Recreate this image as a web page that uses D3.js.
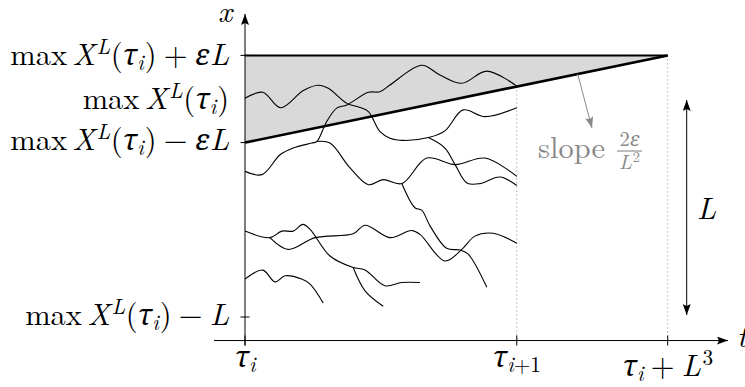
<!DOCTYPE html>
<html><head><meta charset="utf-8">
<script src="https://cdn.jsdelivr.net/npm/d3@7"></script>
<style>body{margin:0;background:#fff} svg{display:block}</style>
</head><body><svg id="c" width="745" height="387"></svg>
<script>
// time t in % of L^3 after tau_i ; level x in % of L relative to max X^L(tau_i)
const EPS = 20;
const tauNext = 64.3;
const axisLevel = -110.8;
const pathA  = [[0,0.3],[4.2,3.1],[8.4,-4.0],[13.8,3.9],[17.3,6.3],[19.7,4.9],[24.1,-2.0],[27.2,-3.9],[29.2,-5.8],[31.9,-14.9],[34.3,-18.0],[37.5,-19.0],[43.4,-17.7],[47.3,-14.6],[51.6,-5.0],[56.8,-8.1],[64.3,-4.0]];
const pathA2 = [[43.4,-17.7],[47.3,-22.5],[49.7,-30.1],[52.5,-38.5],[55.6,-38.8],[60.3,-35.8],[64.3,-39.7]];
const pathB  = [[0,-33.2],[4.0,-34.7],[8.3,-25.6],[11.4,-22.5],[15.8,-20.2],[17.0,-19.5],[19.3,-10.4],[21.7,-4.2],[24.1,-2.7],[29.2,3.1],[31.9,3.3],[34.3,6.4],[41.8,15.5],[46.1,11.0],[51.3,7.2],[57.2,12.8],[64.3,5.9]];
const pathC  = [[17.0,-19.5],[20.1,-20.2],[24.8,-31.5],[29.2,-39.3],[32.7,-37.0],[37.1,-38.8],[43.0,-27.1],[49.7,-30.1],[56.8,-27.1],[64.3,-35.5]];
const pathC2 = [[37.1,-38.8],[40.2,-49.9],[41.8,-51.0],[43.8,-58.3],[47.7,-68.5],[50.9,-69.3],[52.8,-71.2],[57.2,-86.4]];
const pathD  = [[0,-60.6],[5.9,-63.6],[8.7,-60.6],[11.4,-60.6],[13.7,-57.5],[15.4,-59.8],[20.1,-72.0],[25.6,-77.3],[28.4,-78.4],[33.1,-85.7],[37.1,-84.2],[41.4,-84.2]];
const pathD2 = [[5.9,-63.6],[10.2,-69.0],[16.6,-63.6],[25.6,-61.8],[28.4,-57.9],[34.3,-63.6],[39.4,-60.3],[41.4,-62.1],[47.3,-74.3],[51.3,-69.0],[54.4,-62.9],[58.7,-61.6],[64.3,-66.2]];
const pathD3 = [[25.6,-77.3],[28.4,-88.0],[32.7,-95.1]];
const pathE  = [[0,-82.6],[4.2,-78.5],[7.1,-83.9],[9.5,-81.1],[13.4,-82.6],[15.4,-84.9],[18.5,-93.6]];
const paths = [pathA, pathA2, pathB, pathC, pathC2, pathD, pathD2, pathD3, pathE];

// label pieces: [text, kind, leading space in em]
const head = [["max","r"],["X","i",0.18],["L","sup",0.05],["(","r",0.02],["τ","g"],["i","sub"],[")","r",0.03]];
const yTickValues = [EPS, 0, -EPS, -100];
const yTickMarked = [true, false, true, true];
const yTickLabels = [
  head.concat([["+","r",0.24],["ε","g",0.24],["L","i",0.02]]),
  head,
  head.concat([["−","r",0.24],["ε","g",0.24],["L","i",0.02]]),
  head.concat([["−","r",0.24],["L","i",0.24]])
];
const xTickValues = [0, tauNext, 100];
const xTickLabels = [
  [["τ","g"],["i","sub"]],
  [["τ","g"],["i","sub"],["+1","subr"]],
  [["τ","g"],["i","sub"],["+","r",0.24],["L","i",0.24],["3","supr",0.05]]
];

const svg = d3.select("#c");
const FONT = "'Latin Modern Roman', 'Liberation Serif', serif";
const GREEK = "'Noto Serif', 'DejaVu Serif', serif";
const FS = 30.5;
const x = d3.scaleLinear().domain([0,100]).range([245,667.7]);
const y = d3.scaleLinear().domain([-100,EPS]).range([317,55.4]);

const defs = svg.append("defs");
function marker(id, color){
  defs.append("marker").attr("id",id).attr("viewBox","0 0 11 8").attr("refX",11).attr("refY",4)
    .attr("markerWidth",11).attr("markerHeight",8).attr("markerUnits","userSpaceOnUse").attr("orient","auto-start-reverse")
    .append("path").attr("d","M0,0 L11,4 L0,8 L2,4 Z").attr("fill",color);
}
marker("ah","#000"); marker("ahg","#888");

function rich(sel, px, py, parts, anchor, fs, fill){
  const t = sel.append("text").attr("x",px).attr("y",py).attr("text-anchor",anchor||"start")
    .style("font-family",FONT).style("font-size",fs+"px").attr("fill",fill||"#000");
  let off = 0;
  parts.forEach(([s,k,sp])=>{
    let target = 0, size = fs, it = false, fam = null;
    if(k==="i") it = true;
    if(k==="g"){ it = true; fam = GREEK; size = fs*0.95; }
    if(k==="sup"||k==="supr"){ target = -0.36*fs; size = 0.7*fs; it = k==="sup"; }
    if(k==="sub"||k==="subr"){ target = 0.15*fs; size = 0.7*fs; it = k==="sub"; }
    const ts = t.append("tspan").attr("dy", target-off).attr("dx",(sp||0)*fs).style("font-size",size+"px")
      .style("font-style", it?"italic":"normal").style("font-weight","normal").text(s);
    if(fam) ts.style("font-family", fam);
    off = target;
  });
  return t;
}

// shaded region
const tri = [[0,EPS],[100,EPS],[0,-EPS]];
svg.append("path").attr("d", d3.line().x(d=>x(d[0])).y(d=>y(d[1]))(tri)+"Z").attr("fill","#d9d9d9");

// dotted verticals
[[tauNext, EPS - 2*EPS*(1-tauNext/100)],[100,EPS]].forEach(([tv,top])=>{
  svg.append("line").attr("x1",x(tv)).attr("x2",x(tv)).attr("y1",y(top)).attr("y2",y(axisLevel))
    .attr("stroke","#888").attr("stroke-width",1).attr("stroke-dasharray","1,3");
});

// paths
const line = d3.line().x(d=>x(d[0])).y(d=>y(d[1])).curve(d3.curveCatmullRom.alpha(0.5));
svg.append("g").selectAll("path").data(paths).join("path").attr("d",line)
  .attr("fill","none").attr("stroke","#000").attr("stroke-width",1.1);

// boundary lines
svg.append("line").attr("x1",x(0)).attr("x2",x(100)).attr("y1",y(EPS)).attr("y2",y(EPS))
  .attr("stroke","#000").attr("stroke-width",2);
svg.append("line").attr("x1",x(0)).attr("x2",x(100)).attr("y1",y(-EPS)).attr("y2",y(EPS))
  .attr("stroke","#000").attr("stroke-width",2.6);

// axes
svg.append("line").attr("x1",x(0)).attr("x2",x(0)).attr("y1",y(axisLevel)+5).attr("y2",14)
  .attr("stroke","#000").attr("stroke-width",1).attr("marker-end","url(#ah)");
svg.append("line").attr("x1",214).attr("x2",728).attr("y1",y(axisLevel)).attr("y2",y(axisLevel))
  .attr("stroke","#000").attr("stroke-width",1).attr("marker-end","url(#ah)");
rich(svg, 225, 22, [["x","i"]], "middle", FS);
rich(svg, 737, 347, [["t","i"]], "start", FS);

// y ticks
const yBase = [65, 109, 150, 325];
yTickValues.forEach((v,i)=>{
  if(yTickMarked[i]) svg.append("line").attr("x1",x(0)-4.5).attr("x2",x(0)+4.5).attr("y1",y(v)).attr("y2",y(v))
    .attr("stroke","#000").attr("stroke-width",1);
  rich(svg, 229, yBase[i], yTickLabels[i], "end", FS);
});
// x ticks
const xBase = [367, 367, 376];
xTickValues.forEach((v,i)=>{
  svg.append("line").attr("x1",x(v)).attr("x2",x(v)).attr("y1",y(axisLevel)-5).attr("y2",y(axisLevel)+5)
    .attr("stroke","#000").attr("stroke-width",1);
  rich(svg, x(v), xBase[i], xTickLabels[i], "middle", FS);
});

// L double arrow
svg.append("line").attr("x1",686.7).attr("x2",686.7).attr("y1",y(0)+1).attr("y2",y(-100)-2)
  .attr("stroke","#000").attr("stroke-width",1).attr("marker-start","url(#ah)").attr("marker-end","url(#ah)");
rich(svg, 697, 219, [["L","i"]], "start", FS);

// slope annotation
const sT = 78.7;
svg.append("line").attr("x1",x(sT)).attr("y1",y(-EPS+2*EPS*sT/100)).attr("x2",592).attr("y2",128)
  .attr("stroke","#888").attr("stroke-width",1).attr("marker-end","url(#ahg)");
rich(svg, 538, 158, [["slope","r"]], "start", FS, "#888");
rich(svg, 629.5, 145.5, [["2","r"],["ε","g"]], "middle", 20.6, "#888");
svg.append("line").attr("x1",617).attr("x2",642).attr("y1",151).attr("y2",151).attr("stroke","#888").attr("stroke-width",1.1);
rich(svg, 629.5, 169, [["L","i"],["2","supr",0.04]], "middle", 20.6, "#888");
</script></body></html>
